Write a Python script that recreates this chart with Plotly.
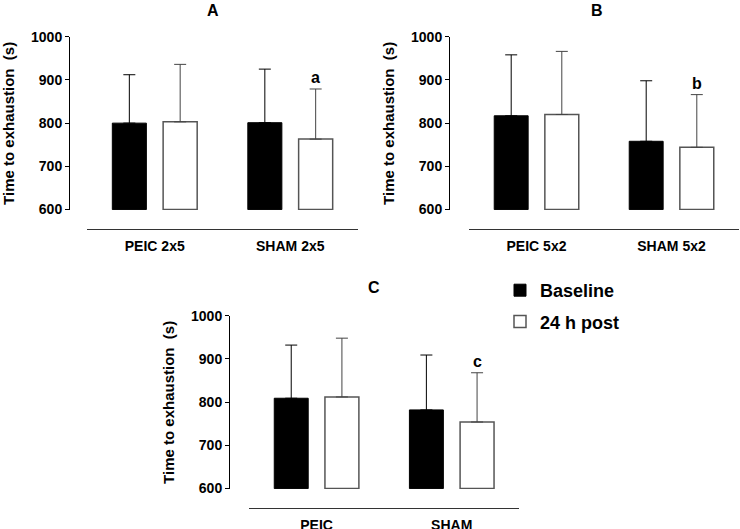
import plotly.graph_objects as go

# ---- data ----
cats_A = ["PEIC 2x5", "SHAM 2x5"]
cats_B = ["PEIC 5x2", "SHAM 5x2"]
cats_C = ["PEIC", "SHAM"]

base_A = [800, 801]
post_A = [803, 763]
base_A_sd = [112, 124]
post_A_sd = [133, 116]

base_B = [817, 758]
post_B = [820, 744]
base_B_sd = [141, 140]
post_B_sd = [146, 122]

base_C = [809, 782]
post_C = [812, 754]
base_C_sd = [123, 127]
post_C_sd = [136, 114]

sig_labels = ["a", "b", "c"]
y_ticks = [600, 700, 800, 900, 1000]
series_names = ["Baseline", "24 h post"]
panel_titles = ["A", "B", "C"]
y_title = "Time to exhaustion\u00a0\u00a0(s)"
BASE = 600

FONT = "Liberation Sans, Arial, sans-serif"

fig = go.Figure()

panels = [
    ("x", "y", cats_A, base_A, base_A_sd, post_A, post_A_sd, False),
    ("x2", "y2", cats_B, base_B, base_B_sd, post_B, post_B_sd, False),
    ("x3", "y3", cats_C, base_C, base_C_sd, post_C, post_C_sd, True),
]

for xa, ya, cats, b, bsd, p, psd, show in panels:
    fig.add_trace(go.Bar(
        x=cats, y=[v - BASE for v in b], base=BASE, name=series_names[0],
        marker=dict(color="black", line=dict(color="black", width=1)),
        error_y=dict(type="data", symmetric=False, array=bsd, arrayminus=[0] * len(bsd),
                     color="black", thickness=1, width=6),
        xaxis=xa, yaxis=ya, showlegend=show, legendgroup="g1",
    ))
    fig.add_trace(go.Bar(
        x=cats, y=[v - BASE for v in p], base=BASE, name=series_names[1],
        marker=dict(color="white", line=dict(color="#555555", width=1.5)),
        error_y=dict(type="data", symmetric=False, array=psd, arrayminus=[0] * len(psd),
                     color="#444444", thickness=1, width=6),
        xaxis=xa, yaxis=ya, showlegend=show, legendgroup="g2",
    ))

tickfont = dict(family=FONT, size=14, color="black", weight="bold")
titlefont = dict(family=FONT, size=15, color="black", weight="bold")


def yaxis(pos, dom):
    return dict(domain=dom, range=[599, 1000], tickvals=y_ticks, showline=True,
                linecolor="black", linewidth=1, ticks="outside", ticklen=4,
                tickcolor="black", tickfont=tickfont, showgrid=False, zeroline=False,
                anchor="free", position=pos, automargin=False,
                title=dict(text=y_title, font=titlefont, standoff=11))


def xaxis(dom, pos):
    return dict(domain=dom, range=[-0.5, 1.5], showline=True, linecolor="#333333",
                linewidth=1, ticks="outside", ticklen=4, tickcolor="rgba(0,0,0,0)",
                tickfont=tickfont, showgrid=False, zeroline=False,
                anchor="free", position=pos, automargin=False)


W, H = 740, 529
fig.update_layout(
    width=W, height=H,
    margin=dict(l=0, r=0, t=0, b=0, autoexpand=False),
    paper_bgcolor="white", plot_bgcolor="white",
    barmode="group", bargap=0.25, bargroupgap=0.33,
    xaxis=xaxis([87 / W, 358 / W], 1 - 229 / H),
    yaxis=yaxis(69 / W, [1 - 210 / H, 1 - 36.7 / H]),
    xaxis2=xaxis([469 / W, 739 / W], 1 - 229 / H),
    yaxis2=yaxis(449 / W, [1 - 210 / H, 1 - 36.7 / H]),
    xaxis3=xaxis([249 / W, 519.3 / W], 1 - 507.7 / H),
    yaxis3=yaxis(229 / W, [1 - 489 / H, 1 - 315.7 / H]),
    legend=dict(x=500 / W, y=1 - 272 / H, xanchor="left", yanchor="top",
                font=dict(family=FONT, size=18, color="black", weight="bold"),
                traceorder="grouped", tracegroupgap=5, bgcolor="rgba(0,0,0,0)"),
    showlegend=True,
)

# panel titles
title_pos = [(213, 11), (597, 11), (374, 287)]
for t, (px, py) in zip(panel_titles, title_pos):
    fig.add_annotation(text=t, x=px / W, y=1 - py / H, xref="paper", yref="paper",
                       showarrow=False, xanchor="center", yanchor="middle",
                       font=dict(family=FONT, size=16, color="black", weight="bold"))

# significance letters above SHAM 24 h post error bars
for (xa, ya, cats, b, bsd, p, psd, show), lab in zip(panels, sig_labels):
    fig.add_annotation(text=lab, x=1.1875, y=p[1] + psd[1], xref=xa, yref=ya,
                       showarrow=False, xanchor="center", yanchor="bottom", yshift=1,
                       font=dict(family=FONT, size=16, color="black", weight="bold"))

fig.write_html(
    "out.html",
    config={"displayModeBar": False},
    post_script="document.body.style.margin='0';document.body.style.overflow='hidden';",
)
